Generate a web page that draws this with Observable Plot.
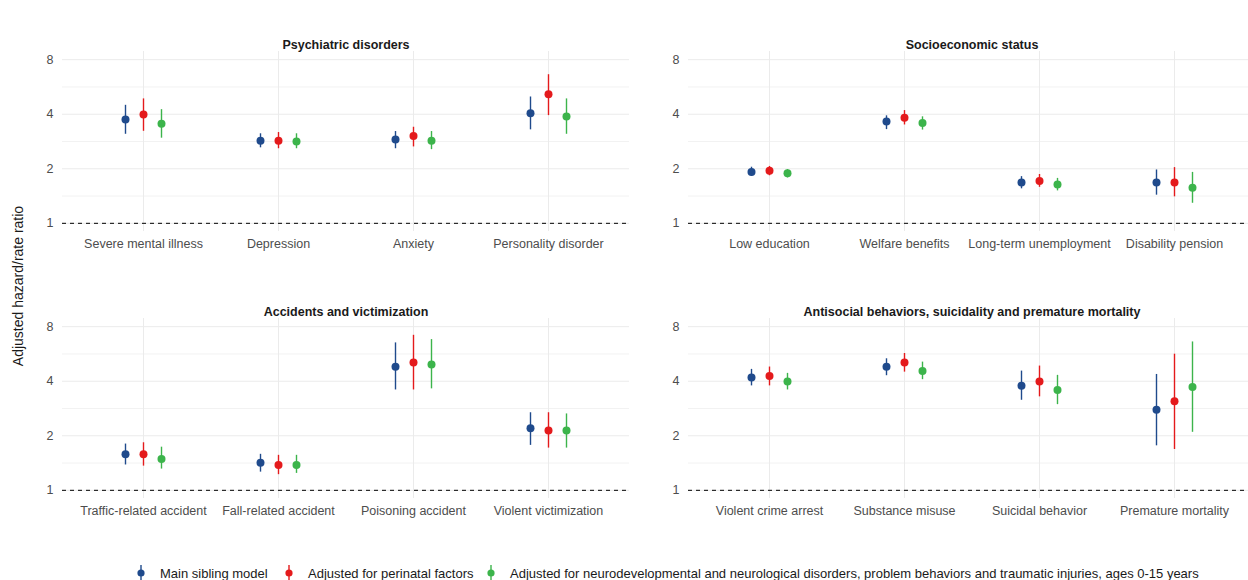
<!DOCTYPE html>
<html>
<head>
<meta charset="utf-8">
<script src="https://cdn.jsdelivr.net/npm/d3@7"></script>
<script src="https://cdn.jsdelivr.net/npm/@observablehq/plot@0.6"></script>
<style>
  html, body { margin: 0; padding: 0; background: #fff; }
  #wrap { position: relative; width: 1248px; height: 580px; overflow: hidden; font-family: "Liberation Sans", Arial, sans-serif; }
  .panel { position: absolute; width: 640px; height: 261px; }
  .panel svg { max-width: none !important; }
  #ytitle { position: absolute; left: 18px; top: 286px; transform: translate(-50%, -50%) rotate(-90deg); font-size: 14px; color: #1a1a1a; white-space: nowrap; }
  .leg { position: absolute; top: 564px; height: 18px; display: flex; align-items: center; font-size: 13px; color: #1a1a1a; white-space: nowrap; }
  .leg svg { margin-right: 14px; }
</style>
</head>
<body>
<div id="wrap">
  <div id="ytitle">Adjusted hazard/rate ratio</div>
</div>
<script>
// ---- Data ----
const seriesNames = [
  "Main sibling model",
  "Adjusted for perinatal factors",
  "Adjusted for neurodevelopmental and neurological disorders, problem behaviors and traumatic injuries, ages 0-15 years"
];
const seriesColors = ["#1f4a8c", "#e41a1c", "#3cb44b"];
const yTicks = [1, 2, 4, 8];
const yMinorTicks = [1.414, 2.828, 5.657];

// Psychiatric disorders: [estimate, lower, upper]
const psychCats = ["Severe mental illness", "Depression", "Anxiety", "Personality disorder"];
const psychMain = [[3.74, 3.10, 4.48], [2.86, 2.61, 3.12], [2.90, 2.58, 3.21], [4.05, 3.28, 4.98]];
const psychPeri = [[3.98, 3.22, 4.86], [2.86, 2.58, 3.17], [3.03, 2.64, 3.39], [5.15, 3.93, 6.61]];
const psychNeuro = [[3.54, 2.95, 4.24], [2.83, 2.58, 3.12], [2.86, 2.55, 3.21], [3.88, 3.10, 4.86]];

// Socioeconomic status
const sesCats = ["Low education", "Welfare benefits", "Long-term unemployment", "Disability pension"];
const sesMain = [[1.92, 1.82, 2.04], [3.65, 3.29, 3.92], [1.68, 1.55, 1.81], [1.68, 1.43, 1.97]];
const sesPeri = [[1.95, 1.83, 2.06], [3.83, 3.49, 4.19], [1.71, 1.58, 1.86], [1.68, 1.40, 2.03]];
const sesNeuro = [[1.89, 1.78, 1.98], [3.58, 3.27, 3.87], [1.64, 1.51, 1.77], [1.57, 1.29, 1.91]];

// Accidents and victimization
const accCats = ["Traffic-related accident", "Fall-related accident", "Poisoning accident", "Violent victimization"];
const accMain = [[1.58, 1.38, 1.80], [1.42, 1.26, 1.58], [4.81, 3.58, 6.51], [2.20, 1.77, 2.68]];
const accPeri = [[1.58, 1.36, 1.83], [1.38, 1.22, 1.56], [5.08, 3.58, 7.17], [2.14, 1.71, 2.68]];
const accNeuro = [[1.49, 1.31, 1.73], [1.38, 1.24, 1.56], [4.95, 3.63, 6.79], [2.14, 1.71, 2.64]];

// Antisocial behaviors, suicidality and premature mortality
const antiCats = ["Violent crime arrest", "Substance misuse", "Suicidal behavior", "Premature mortality"];
const antiMain = [[4.20, 3.77, 4.65], [4.81, 4.29, 5.32], [3.78, 3.14, 4.55], [2.78, 1.76, 4.36]];
const antiPeri = [[4.27, 3.77, 4.79], [5.08, 4.49, 5.69], [3.99, 3.28, 4.85], [3.10, 1.68, 5.64]];
const antiNeuro = [[3.99, 3.58, 4.42], [4.55, 4.08, 5.10], [3.58, 2.97, 4.31], [3.72, 2.09, 6.59]];

// ---- Drawing ----
const wrap = document.getElementById("wrap");
const dodge = [-18, 0, 18];

function panel(title, cats, seriesVals, left, top) {
  const rows = [];
  seriesVals.forEach((vals, si) => vals.forEach((v, i) => rows.push({
    cat: cats[i], est: v[0], lo: v[1], hi: v[2], series: seriesNames[si]
  })));
  const marks = [
    Plot.gridY(yMinorTicks, {stroke: "#f2f2f2", strokeOpacity: 1, strokeWidth: 1}),
    Plot.gridY(yTicks, {stroke: "#ebebeb", strokeOpacity: 1, strokeWidth: 1}),
    Plot.gridX({stroke: "#ebebeb", strokeOpacity: 1, strokeWidth: 1}),
    Plot.axisY({ticks: yTicks, tickSize: 0, tickPadding: 9, tickFormat: d => String(d), label: null, fontSize: 12.5}),
    Plot.axisX({tickSize: 0, tickPadding: 8, label: null, fontSize: 12.5}),
    Plot.ruleY([1], {stroke: "#000", strokeWidth: 1, strokeDasharray: "4,4"})
  ];
  seriesNames.forEach((name, si) => {
    const d = rows.filter(r => r.series === name);
    marks.push(Plot.ruleX(d, {x: "cat", y1: "lo", y2: "hi", stroke: "series", strokeWidth: 1.4, dx: dodge[si]}));
    marks.push(Plot.dot(d, {x: "cat", y: "est", fill: "series", r: 4, dx: dodge[si]}));
  });
  marks.push(Plot.text([title], {frameAnchor: "top", dy: -11, fontWeight: "bold", fontSize: 12.5, fill: "#1a1a1a"}));
  const chart = Plot.plot({
    width: 640, height: 261,
    marginLeft: 62, marginRight: 11, marginTop: 51, marginBottom: 30,
    x: {type: "point", domain: cats, padding: 0.6, label: null},
    y: {type: "log", domain: [Math.pow(2, -0.15), Math.pow(2, 3.15)], label: null},
    color: {domain: seriesNames, range: seriesColors},
    style: {fontFamily: "Liberation Sans, Arial, sans-serif", color: "#4d4d4d", background: "transparent", overflow: "visible", maxWidth: "none"},
    marks
  });
  const div = document.createElement("div");
  div.className = "panel";
  div.style.left = left + "px";
  div.style.top = top + "px";
  div.appendChild(chart);
  wrap.appendChild(div);
}

panel("Psychiatric disorders", psychCats, [psychMain, psychPeri, psychNeuro], 0, 0);
panel("Socioeconomic status", sesCats, [sesMain, sesPeri, sesNeuro], 626, 0);
panel("Accidents and victimization", accCats, [accMain, accPeri, accNeuro], 0, 267);
panel("Antisocial behaviors, suicidality and premature mortality", antiCats, [antiMain, antiPeri, antiNeuro], 626, 267);

// Legend
const legLefts = [136, 284, 486];
seriesNames.forEach((name, i) => {
  const item = document.createElement("div");
  item.className = "leg";
  item.style.left = legLefts[i] + "px";
  const ns = "http://www.w3.org/2000/svg";
  const svg = document.createElementNS(ns, "svg");
  svg.setAttribute("width", "10");
  svg.setAttribute("height", "18");
  const line = document.createElementNS(ns, "line");
  line.setAttribute("x1", "5"); line.setAttribute("x2", "5");
  line.setAttribute("y1", "1"); line.setAttribute("y2", "17");
  line.setAttribute("stroke", seriesColors[i]); line.setAttribute("stroke-width", "1.4");
  const c = document.createElementNS(ns, "circle");
  c.setAttribute("cx", "5"); c.setAttribute("cy", "9"); c.setAttribute("r", "3.6");
  c.setAttribute("fill", seriesColors[i]);
  svg.appendChild(line); svg.appendChild(c);
  const span = document.createElement("span");
  span.textContent = name;
  item.appendChild(svg); item.appendChild(span);
  wrap.appendChild(item);
});
</script>
</body>
</html>
